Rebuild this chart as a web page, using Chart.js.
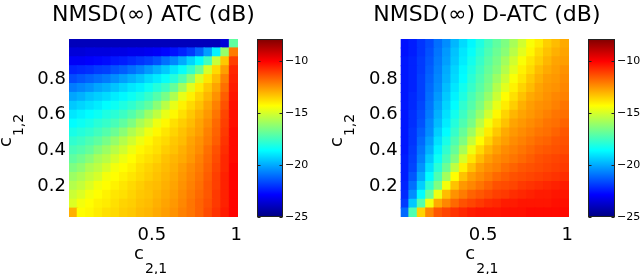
<!DOCTYPE html>
<html><head><meta charset="utf-8">
<script src="https://cdn.jsdelivr.net/npm/chart.js@4.4.1/dist/chart.umd.min.js"></script>
<style>
html,body{margin:0;padding:0;background:#fff;overflow:hidden}
#wrap{position:relative;width:640px;height:274px;background:#fff}
canvas{position:absolute;top:0}
</style>
</head><body>
<div id="wrap">
<canvas id="h1" width="320" height="274" style="left:0px"></canvas>
<canvas id="h2" width="320" height="274" style="left:320px"></canvas>
<canvas id="cb1" width="70" height="274" style="left:250px"></canvas>
<canvas id="cb2" width="60" height="274" style="left:580px"></canvas>
</div>
<script>
// ---- data ----
const titleATC = 'NMSD(∞) ATC (dB)';
const titleDATC = 'NMSD(∞) D-ATC (dB)';
// c_{2,1}: column centres (x), c_{1,2}: row centres (y), listed top to bottom
const c21 = [0.035,0.085,0.135,0.185,0.235,0.285,0.335,0.385,0.435,0.485,0.535,0.585,0.635,0.685,0.735,0.785,0.835,0.885,0.935,0.985];
const c12 = [1.00,0.95,0.90,0.85,0.80,0.75,0.70,0.65,0.60,0.55,0.50,0.45,0.40,0.35,0.30,0.25,0.20,0.15,0.10,0.05];
const xTicks = [0.5, 1];
const yTicks = [0.2, 0.4, 0.6, 0.8];
const cbTicks = [-25, -20, -15, -10];
const cbMin = -25, cbMax = -7.91;

// NMSD(inf) ATC (dB), rows top (c12=1.00) to bottom (c12=0.05)
const nmsdATC = [
[-24.0,-24.0,-24.0,-24.0,-24.0,-24.0,-24.0,-24.0,-24.0,-24.0,-24.0,-24.0,-24.0,-24.0,-24.0,-24.0,-24.0,-24.0,-23.5,-17.0],
[-23.5,-23.5,-23.4,-23.4,-23.4,-23.3,-23.3,-23.2,-23.2,-23.1,-23.0,-22.8,-22.6,-22.3,-21.9,-21.2,-20.2,-18.8,-16.1,-12.1],
[-23.0,-23.0,-22.9,-22.8,-22.7,-22.5,-22.4,-22.2,-22.0,-21.8,-21.5,-21.0,-20.6,-20.0,-19.3,-18.6,-17.5,-15.3,-13.4,-11.1],
[-22.3,-22.2,-22.1,-21.9,-21.8,-21.5,-21.3,-21.0,-20.7,-20.3,-19.9,-19.5,-19.0,-18.5,-17.8,-16.8,-15.0,-13.7,-12.7,-10.7],
[-21.6,-21.4,-21.2,-21.0,-20.8,-20.5,-20.2,-19.9,-19.6,-19.2,-18.9,-18.5,-18.0,-17.3,-16.3,-14.9,-13.9,-13.2,-12.2,-10.6],
[-20.8,-20.6,-20.4,-20.1,-19.9,-19.6,-19.3,-19.0,-18.8,-18.4,-18.0,-17.6,-16.9,-15.9,-14.8,-14.0,-13.4,-12.8,-11.9,-10.5],
[-20.1,-19.9,-19.6,-19.4,-19.2,-18.9,-18.7,-18.4,-18.1,-17.7,-17.2,-16.6,-15.7,-14.7,-14.1,-13.6,-13.1,-12.5,-11.6,-10.4],
[-19.5,-19.3,-19.1,-18.9,-18.6,-18.4,-18.1,-17.8,-17.4,-17.0,-16.3,-15.5,-14.7,-14.1,-13.7,-13.3,-12.8,-12.2,-11.4,-10.3],
[-19.0,-18.8,-18.6,-18.4,-18.1,-17.9,-17.6,-17.2,-16.7,-16.0,-15.4,-14.7,-14.2,-13.8,-13.4,-13.0,-12.6,-12.0,-11.2,-10.3],
[-18.6,-18.4,-18.2,-17.9,-17.7,-17.4,-17.0,-16.5,-15.8,-15.3,-14.6,-14.2,-13.8,-13.5,-13.2,-12.8,-12.4,-11.8,-11.1,-10.3],
[-18.2,-18.0,-17.8,-17.5,-17.2,-16.8,-16.3,-15.7,-15.2,-14.6,-14.2,-13.9,-13.6,-13.3,-13.0,-12.7,-12.2,-11.7,-11.0,-10.2],
[-17.8,-17.6,-17.3,-17.0,-16.6,-16.1,-15.6,-15.1,-14.6,-14.2,-13.9,-13.7,-13.4,-13.2,-12.8,-12.5,-12.1,-11.6,-10.9,-10.2],
[-17.4,-17.2,-16.9,-16.4,-16.0,-15.5,-15.1,-14.6,-14.2,-14.0,-13.8,-13.5,-13.3,-13.0,-12.7,-12.4,-11.9,-11.4,-10.8,-10.2],
[-17.0,-16.7,-16.3,-15.8,-15.5,-15.0,-14.6,-14.3,-14.0,-13.8,-13.6,-13.3,-13.1,-12.9,-12.6,-12.2,-11.8,-11.3,-10.7,-10.2],
[-16.5,-16.2,-15.7,-15.4,-15.0,-14.5,-14.3,-14.1,-13.8,-13.6,-13.4,-13.2,-13.0,-12.7,-12.4,-12.1,-11.7,-11.2,-10.7,-10.1],
[-16.0,-15.7,-15.3,-15.0,-14.5,-14.3,-14.1,-13.9,-13.7,-13.5,-13.3,-13.1,-12.9,-12.6,-12.3,-12.0,-11.6,-11.1,-10.6,-10.1],
[-15.6,-15.3,-14.9,-14.5,-14.3,-14.1,-13.9,-13.7,-13.5,-13.3,-13.2,-13.0,-12.8,-12.5,-12.2,-11.9,-11.5,-11.1,-10.6,-10.1],
[-15.2,-14.9,-14.5,-14.3,-14.1,-13.9,-13.8,-13.6,-13.4,-13.3,-13.1,-12.9,-12.7,-12.4,-12.1,-11.8,-11.5,-11.0,-10.6,-10.1],
[-14.9,-14.5,-14.3,-14.1,-14.0,-13.8,-13.6,-13.5,-13.3,-13.2,-13.0,-12.8,-12.6,-12.3,-12.0,-11.7,-11.4,-11.0,-10.6,-10.1],
[-13.0,-14.3,-14.2,-14.0,-13.8,-13.7,-13.5,-13.4,-13.2,-13.1,-12.9,-12.7,-12.5,-12.2,-12.0,-11.7,-11.3,-10.9,-10.5,-10.1]
];

// NMSD(inf) D-ATC (dB), rows top (c12=1.00) to bottom (c12=0.05)
const nmsdDATC = [
[-22.6,-22.4,-22.0,-21.6,-21.0,-20.5,-19.8,-19.2,-18.7,-18.1,-17.5,-17.0,-16.5,-15.8,-15.1,-14.4,-14.0,-13.5,-13.2,-12.9],
[-22.6,-22.4,-22.0,-21.5,-20.9,-20.3,-19.6,-19.0,-18.5,-17.9,-17.3,-16.8,-16.3,-15.5,-14.8,-14.2,-13.7,-13.3,-13.0,-12.8],
[-22.5,-22.3,-21.9,-21.4,-20.8,-20.2,-19.5,-18.9,-18.3,-17.7,-17.1,-16.6,-15.9,-15.1,-14.4,-13.9,-13.5,-13.1,-12.8,-12.7],
[-22.5,-22.3,-21.9,-21.3,-20.7,-20.0,-19.3,-18.7,-18.1,-17.5,-16.9,-16.4,-15.6,-14.8,-14.1,-13.7,-13.2,-12.9,-12.7,-12.5],
[-22.5,-22.3,-21.8,-21.2,-20.6,-19.9,-19.2,-18.6,-17.9,-17.3,-16.7,-16.0,-15.2,-14.4,-13.9,-13.4,-13.0,-12.7,-12.6,-12.4],
[-22.5,-22.3,-21.8,-21.1,-20.5,-19.7,-19.0,-18.3,-17.7,-17.1,-16.5,-15.6,-14.8,-14.1,-13.6,-13.2,-12.8,-12.6,-12.5,-12.3],
[-22.5,-22.2,-21.8,-21.0,-20.3,-19.5,-18.8,-18.1,-17.4,-16.8,-16.1,-15.2,-14.3,-13.8,-13.3,-12.9,-12.7,-12.5,-12.3,-12.2],
[-22.5,-22.2,-21.7,-20.9,-20.1,-19.3,-18.6,-17.8,-17.2,-16.5,-15.6,-14.7,-14.0,-13.5,-13.0,-12.7,-12.5,-12.4,-12.2,-12.0],
[-22.5,-22.1,-21.6,-20.8,-19.9,-19.1,-18.3,-17.6,-16.9,-16.1,-15.1,-14.2,-13.6,-13.1,-12.8,-12.6,-12.4,-12.2,-12.0,-11.9],
[-22.5,-22.1,-21.5,-20.6,-19.7,-18.9,-18.0,-17.3,-16.6,-15.5,-14.5,-13.8,-13.3,-12.8,-12.6,-12.4,-12.2,-12.0,-11.9,-11.7],
[-22.5,-22.0,-21.3,-20.5,-19.4,-18.6,-17.7,-16.9,-16.0,-14.9,-14.0,-13.4,-12.9,-12.6,-12.4,-12.2,-12.0,-11.9,-11.7,-11.5],
[-22.5,-22.0,-21.1,-20.2,-19.1,-18.2,-17.3,-16.5,-15.3,-14.3,-13.6,-13.0,-12.7,-12.4,-12.2,-12.0,-11.8,-11.7,-11.5,-11.4],
[-22.5,-21.9,-20.9,-19.9,-18.8,-17.8,-16.9,-15.8,-14.6,-13.7,-13.1,-12.7,-12.4,-12.2,-12.0,-11.8,-11.6,-11.5,-11.4,-11.3],
[-22.4,-21.8,-20.7,-19.5,-18.4,-17.4,-16.4,-15.0,-13.9,-13.2,-12.7,-12.4,-12.2,-12.0,-11.8,-11.6,-11.4,-11.3,-11.2,-11.1],
[-22.4,-21.7,-20.4,-19.1,-17.9,-16.8,-15.4,-14.1,-13.3,-12.7,-12.4,-12.2,-11.9,-11.7,-11.5,-11.4,-11.3,-11.2,-11.1,-11.0],
[-22.4,-21.4,-20.0,-18.6,-17.3,-15.9,-14.3,-13.3,-12.7,-12.4,-12.1,-11.8,-11.6,-11.4,-11.3,-11.2,-11.1,-11.0,-10.9,-10.8],
[-22.3,-21.0,-19.4,-17.8,-16.5,-14.5,-13.3,-12.6,-12.3,-12.0,-11.7,-11.4,-11.3,-11.2,-11.0,-10.9,-10.8,-10.7,-10.6,-10.5],
[-22.2,-20.5,-18.6,-16.8,-14.6,-13.2,-12.5,-12.1,-11.7,-11.5,-11.3,-11.1,-11.0,-10.8,-10.7,-10.6,-10.5,-10.5,-10.4,-10.4],
[-21.9,-19.5,-17.2,-14.5,-12.9,-12.3,-11.8,-11.4,-11.2,-11.0,-10.8,-10.7,-10.5,-10.5,-10.4,-10.4,-10.4,-10.4,-10.3,-10.3],
[-21.1,-17.3,-13.6,-12.3,-11.5,-11.2,-10.9,-10.7,-10.5,-10.4,-10.4,-10.4,-10.3,-10.3,-10.3,-10.2,-10.2,-10.2,-10.2,-10.2]
];

// ---- colour map (MATLAB jet) ----
function jetRGB(t) {
  const f = a => Math.round(255 * Math.min(1, Math.max(0, a)));
  return [f(Math.min(4*t-1.5, -4*t+4.5)), f(Math.min(4*t-0.5, -4*t+3.5)), f(Math.min(4*t+0.5, -4*t+2.5))];
}
function jet(v) {
  const t = Math.min(1, Math.max(0, (v - cbMin) / (cbMax - cbMin)));
  return 'rgb(' + jetRGB(t).join(',') + ')';
}

const FONT = "'DejaVu Sans', sans-serif";

function cells(Z) {
  const pts = [];
  for (let j = 0; j < c12.length; j++)
    for (let i = 0; i < c21.length; i++)
      pts.push({x: c21[i], y: c12[j], v: Z[j][i]});
  return pts;
}

const cellDX = c21[1] - c21[0];
const cellDY = c12[0] - c12[1];

function cellRadius(ctx) {
  const ch = ctx.chart, xs = ch.scales.x, ys = ch.scales.y;
  if (!xs || !ys) return 5;
  const w = Math.abs(xs.getPixelForValue(cellDX) - xs.getPixelForValue(0));
  const h = Math.abs(ys.getPixelForValue(cellDY) - ys.getPixelForValue(0));
  return (Math.max(w, h) + 1) / Math.SQRT2;
}

// title and axis titles c_{2,1}, c_{1,2} (with subscripts)
const axisLabels = {
  id: 'axisLabels',
  afterDraw(chart, args, opts) {
    const {ctx, chartArea: a} = chart;
    ctx.save();
    ctx.fillStyle = '#000';
    ctx.textBaseline = 'alphabetic';
    // title
    ctx.textAlign = 'center';
    ctx.font = '22px ' + FONT;
    ctx.fillText(opts.title, (a.left + a.right) / 2 + (opts.titleShift || 0), 21);
    ctx.textAlign = 'left';
    // x label
    const cx = (a.left + a.right) / 2 - 19.5;
    ctx.font = '18px ' + FONT;
    ctx.fillText('c', cx, 259);
    const cw = ctx.measureText('c').width;
    ctx.font = '14px ' + FONT;
    ctx.fillText('2,1', cx + cw + 1, 273);
    // y label (rotated)
    const cy = (a.top + a.bottom) / 2 + 19;
    ctx.save();
    ctx.translate(a.left - 58.5, cy);
    ctx.rotate(-Math.PI / 2);
    ctx.font = '18px ' + FONT;
    ctx.fillText('c', 0, 0);
    ctx.font = '14px ' + FONT;
    ctx.fillText('1,2', cw + 1, 12);
    ctx.restore();
    ctx.restore();
  }
};

function heatChart(id, title, Z, yAxisWidth, padRight, titleShift) {
  return new Chart(document.getElementById(id), {
    type: 'scatter',
    data: {
      datasets: [{
        data: cells(Z),
        pointStyle: 'rect',
        pointRadius: cellRadius,
        pointHoverRadius: cellRadius,
        borderWidth: 0,
        backgroundColor: ctx => jet(ctx.raw ? ctx.raw.v : cbMin),
        clip: 0
      }]
    },
    options: {
      responsive: false,
      animation: false,
      devicePixelRatio: 1,
      events: [],
      layout: {padding: {left: 0, right: padRight, top: 39, bottom: 0}},
      plugins: {
        legend: {display: false},
        tooltip: {enabled: false},
        title: {display: false},
        axisLabels: {title: title, titleShift: titleShift}
      },
      scales: {
        x: {
          type: 'linear', min: 0.01, max: 1.01,
          grid: {display: false, drawTicks: false},
          border: {display: false},
          afterBuildTicks: s => { s.ticks = xTicks.map(v => ({value: v})); },
          afterFit: s => { s.height = 57; },
          ticks: {color: '#000', font: {family: FONT, size: 18}, padding: 7.5,
                  maxRotation: 0, autoSkip: false, callback: v => String(v)}
        },
        y: {
          type: 'linear', min: 0.025, max: 1.025,
          grid: {display: false, drawTicks: false},
          border: {display: false},
          afterBuildTicks: s => { s.ticks = yTicks.map(v => ({value: v})); },
          afterFit: s => { s.width = yAxisWidth; },
          ticks: {color: '#000', font: {family: FONT, size: 18}, padding: 3,
                  autoSkip: false, callback: v => String(v)}
        }
      }
    },
    plugins: [axisLabels]
  });
}

const cbFrame = {
  id: 'cbFrame',
  afterDatasetsDraw(chart) {
    const {ctx, chartArea: a, scales: {y}} = chart;
    ctx.save();
    ctx.strokeStyle = '#222';
    ctx.lineWidth = 1;
    const L = Math.round(a.left) + 0.5, R = Math.round(a.right) - 0.5;
    const T = Math.round(a.top) + 0.5, B = Math.round(a.bottom) - 0.5;
    ctx.strokeRect(L, T, R - L, B - T);
    ctx.beginPath();
    cbTicks.forEach(v => {
      const py = Math.round(y.getPixelForValue(v)) + 0.5;
      ctx.moveTo(L, py); ctx.lineTo(L + 3, py);
      ctx.moveTo(R, py); ctx.lineTo(R - 3, py);
    });
    ctx.stroke();
    ctx.restore();
  }
};

function colorbar(id, padLeft, axisWidth) {
  return new Chart(document.getElementById(id), {
    type: 'bar',
    data: {
      labels: ['dB'],
      datasets: [{
        data: [[cbMin, cbMax]],
        barPercentage: 1, categoryPercentage: 1, borderWidth: 0,
        backgroundColor: ctx => {
          const ch = ctx.chart;
          if (!ch.chartArea || !ch.scales.y) return '#00f';
          const ys = ch.scales.y;
          const g = ch.ctx.createLinearGradient(0, ys.getPixelForValue(cbMin), 0, ys.getPixelForValue(cbMax));
          [0, 0.125, 0.375, 0.625, 0.875, 1].forEach(t => g.addColorStop(t, 'rgb(' + jetRGB(t).join(',') + ')'));
          return g;
        }
      }]
    },
    options: {
      responsive: false,
      animation: false,
      devicePixelRatio: 1,
      events: [],
      layout: {padding: {left: padLeft, right: 0, top: 39, bottom: 57}},
      plugins: {legend: {display: false}, tooltip: {enabled: false}},
      scales: {
        x: {display: false},
        y: {
          type: 'linear', position: 'right', min: cbMin, max: cbMax,
          grid: {display: false, drawTicks: false},
          border: {display: false},
          afterBuildTicks: s => { s.ticks = cbTicks.map(v => ({value: v})); },
          afterFit: s => { s.width = axisWidth; },
          ticks: {color: '#000', font: {family: FONT, size: 11}, padding: 2,
                  autoSkip: false, callback: v => String(v).replace('-', '\u2212')}
        }
      }
    },
    plugins: [cbFrame]
  });
}

heatChart('h1', titleATC, nmsdATC, 69, 82, 0);
heatChart('h2', titleDATC, nmsdDATC, 80.7, 71, 2);
colorbar('cb1', 7, 37);
colorbar('cb2', 8, 25);
</script>
</body></html>
